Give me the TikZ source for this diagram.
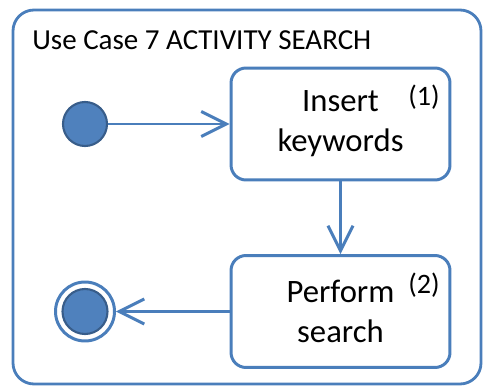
\documentclass[tikz,border=0pt]{standalone}
\usepackage{fontspec}
\setmainfont{Carlito}
\usepackage{tikz}
\usetikzlibrary{arrows.meta}
\definecolor{linec}{HTML}{4A7EBB}
\definecolor{nodefill}{HTML}{4F81BD}
\definecolor{nodedark}{HTML}{385D8A}
\tikzset{
  frame/.style={draw=linec, line width=1.6pt, rounded corners=0.42cm},
  actbox/.style={draw=linec, line width=1.7pt, rounded corners=0.3cm, fill=white,
    minimum width=4.38cm, minimum height=2.24cm, align=center,
    font=\fontsize{18.6}{22.8}\selectfont},
  steplabel/.style={font=\fontsize{16}{18}\selectfont},
  flow/.style={draw=linec, line width=1.7pt, -{Straight Barb[length=5mm,width=5mm]}},
  initnode/.style={circle, draw=nodedark, line width=1.2pt, fill=nodefill, minimum size=0.88cm, inner sep=0pt},
  finalnode/.style={circle, draw=linec, line width=1.7pt, fill=white, minimum size=1.18cm, inner sep=0pt},
}
\begin{document}
\begin{tikzpicture}[x=0.02cm,y=-0.02cm]
\useasboundingbox (0,0) rectangle (483,388);
\draw[frame] (13,10) rectangle (481,384);
\node[anchor=west, inner sep=0pt, font=\fontsize{16.5}{19}\selectfont] (title) at (32,40) {Use Case 7 ACTIVITY SEARCH};
\node[actbox] (insert) at (340.5,124) {Insert\\keywords};
\node[actbox] (perform) at (340.5,311.5) {Perform\\search};
\node[steplabel] (num1) at (424,97) {(1)};
\node[steplabel] (num2) at (424,285) {(2)};
\node[initnode] (start) at (85,124) {};
\node[finalnode] (stop) at (85,311.5) {};
\fill[nodefill, draw=nodedark, line width=1.2pt] (stop.center) circle (0.45cm);
\draw[flow] (start) -- (insert);
\draw[flow] (insert) -- (perform);
\draw[flow] (perform) -- (stop);
\end{tikzpicture}
\end{document}
